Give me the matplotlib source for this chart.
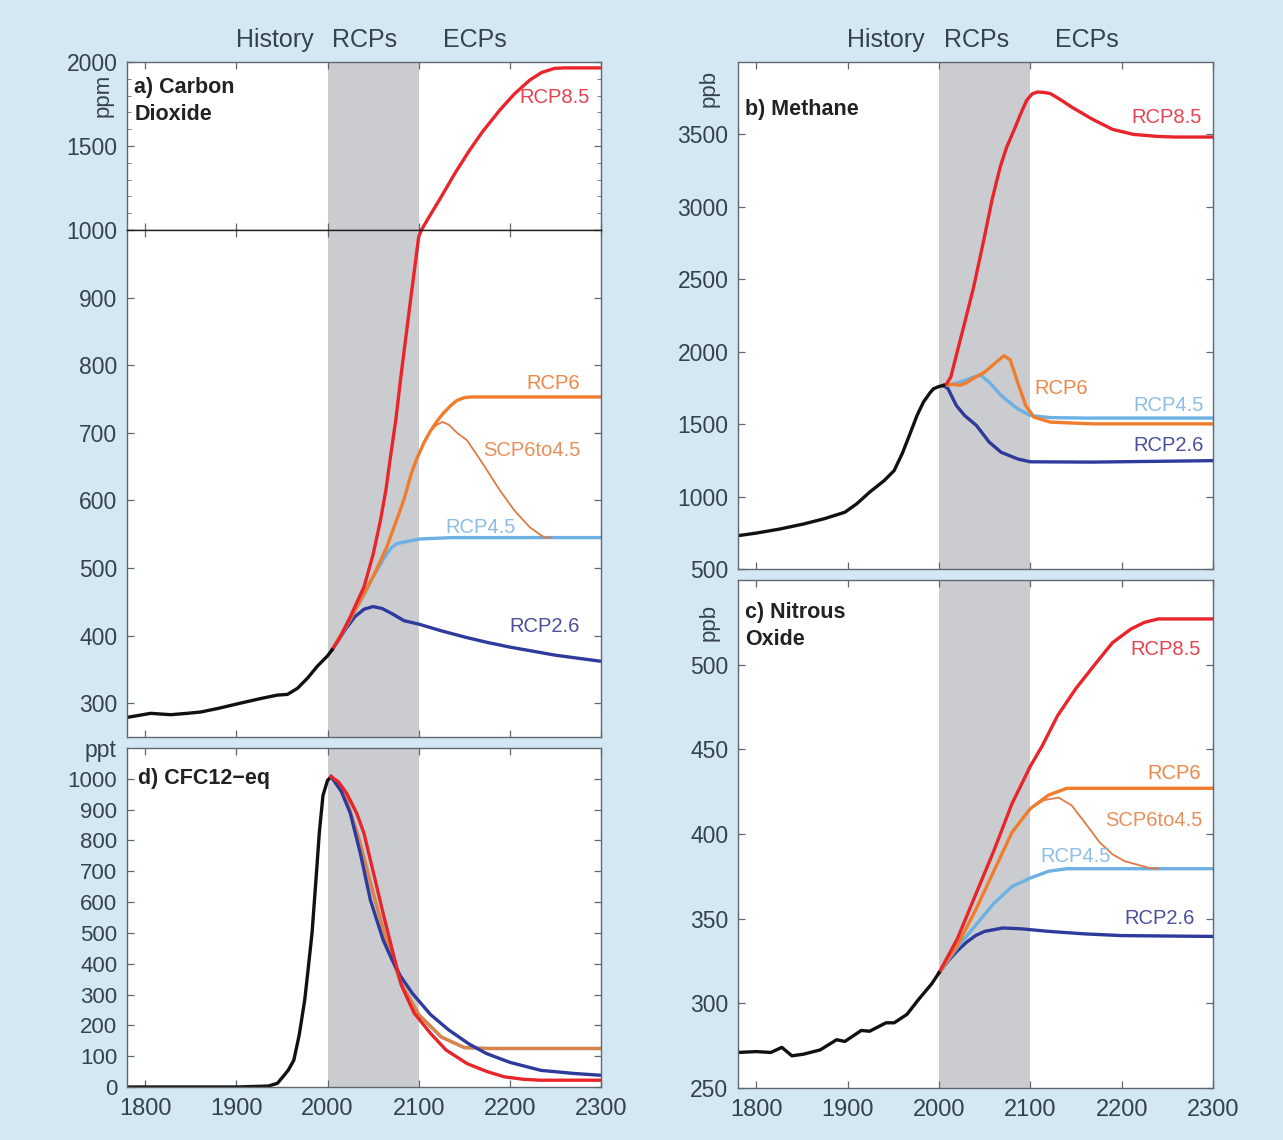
import matplotlib
matplotlib.use("Agg")
import matplotlib.pyplot as plt
from matplotlib.ticker import MultipleLocator
from matplotlib.transforms import blended_transform_factory

plt.rcParams['font.family'] = ['Liberation Sans', 'DejaVu Sans']

BG = '#d3e8f2'
SHADE = '#cbcccf'
TXT = '#36414b'
SPINE = '#5f686f'

C_HIST = '#111111'
C_85 = '#e8252b'
C_6 = '#f07d2e'
C_SCP = '#e07a45'
C_45 = '#6cb0e4'
C_26 = '#2e3a9c'

# ---- CO2 (ppm) ----
co2_hist_yr = [1780, 1806, 1828, 1846, 1861, 1879, 1901, 1927, 1945, 1956, 1967, 1978, 1989, 2000, 2005]
co2_hist = [279, 285, 283, 285, 287, 292, 299, 307, 312, 313, 322, 337, 355, 370, 379]
co2_85_yr = [2005, 2014, 2025, 2040, 2050, 2058, 2064, 2069, 2075, 2080, 2090, 2100, 2103, 2110, 2125,
             2140, 2156, 2170, 2189, 2205, 2222, 2235, 2249, 2260, 2300]
co2_85 = [379, 398, 428, 472, 520, 570, 615, 664, 720, 778, 885, 990, 1000, 1065, 1200,
          1340, 1476, 1585, 1714, 1810, 1893, 1938, 1962, 1965, 1965]
co2_6_yr = [2005, 2014, 2025, 2040, 2052, 2065, 2075, 2084, 2092, 2098, 2106, 2113, 2120, 2127,
            2135, 2142, 2150, 2157, 2300]
co2_6 = [379, 400, 425, 462, 493, 531, 568, 602, 640, 662, 686, 703, 717, 729,
         740, 748, 752, 753, 753]
co2_scp_yr = [2106, 2113, 2120, 2126, 2133, 2142, 2153, 2170, 2189, 2205, 2222, 2238, 2245]
co2_scp = [686, 703, 712, 716, 712, 700, 689, 655, 615, 585, 560, 545, 545]
co2_45_yr = [2005, 2015, 2025, 2040, 2050, 2060, 2065, 2070, 2076, 2090, 2102, 2138, 2300]
co2_45 = [379, 400, 425, 460, 487, 510, 521, 530, 536, 540, 543, 545, 545]
co2_26_yr = [2005, 2010, 2020, 2030, 2040, 2050, 2060, 2070, 2084, 2100, 2125, 2153, 2175, 2200, 2250, 2300]
co2_26 = [379, 389, 410, 428, 439, 443, 440, 433, 422, 417, 407, 397, 390, 383, 371, 362]

# ---- CH4 (ppb) ----
ch4_hist_yr = [1780, 1800, 1825, 1852, 1875, 1897, 1910, 1924, 1940, 1951, 1960, 1969, 1976, 1983, 1990, 1994, 2000, 2005]
ch4_hist = [730, 748, 775, 811, 848, 892, 950, 1030, 1110, 1180, 1300, 1445, 1560, 1652, 1715, 1744, 1760, 1767]
ch4_85_yr = [2005, 2008, 2013, 2020, 2027, 2038, 2049, 2058, 2067, 2074, 2082, 2090, 2096, 2102, 2108,
             2115, 2122, 2133, 2145, 2168, 2190, 2213, 2240, 2258, 2300]
ch4_85 = [1767, 1775, 1826, 2000, 2171, 2447, 2769, 3045, 3275, 3410, 3528, 3650, 3735, 3780, 3793,
          3790, 3782, 3740, 3690, 3605, 3535, 3500, 3486, 3482, 3482]
ch4_6_yr = [2005, 2015, 2023, 2030, 2037, 2050, 2064, 2071, 2078, 2086, 2095, 2104, 2122, 2168, 2300]
ch4_6 = [1767, 1775, 1768, 1785, 1813, 1859, 1935, 1972, 1945, 1790, 1629, 1548, 1514, 1502, 1502]
ch4_45_yr = [2005, 2015, 2028, 2040, 2046, 2055, 2068, 2086, 2100, 2122, 2160, 2300]
ch4_45 = [1767, 1775, 1801, 1830, 1836, 1790, 1698, 1606, 1560, 1545, 1542, 1542]
ch4_26_yr = [2005, 2010, 2019, 2028, 2041, 2055, 2068, 2086, 2100, 2168, 2300]
ch4_26 = [1767, 1744, 1629, 1560, 1491, 1376, 1306, 1260, 1240, 1238, 1248]

# ---- N2O (ppb) ----
n2o_hist_yr = [1780, 1800, 1816, 1828, 1839, 1852, 1870, 1888, 1897, 1915, 1924, 1942, 1951, 1965, 1978, 1992, 2000]
n2o_hist = [271, 271.5, 271, 274, 269, 270, 272.5, 278.5, 277.5, 284, 283.5, 288.5, 288.5, 293.5, 302.5, 311.5, 318]
n2o_85_yr = [2000, 2020, 2040, 2060, 2080, 2100, 2113, 2130, 2150, 2172, 2190, 2210, 2225, 2240, 2300]
n2o_85 = [318, 338, 364, 390, 418, 440, 452, 470, 486, 501, 513, 521, 525, 527, 527]
n2o_6_yr = [2000, 2020, 2040, 2060, 2080, 2100, 2120, 2140, 2300]
n2o_6 = [318, 334, 355, 378, 401, 415, 423, 427, 427]
n2o_scp_yr = [2100, 2115, 2131, 2145, 2158, 2176, 2190, 2203, 2230, 2240]
n2o_scp = [415, 420, 421.5, 417, 408, 395, 388, 384, 380, 379.5]
n2o_45_yr = [2000, 2020, 2040, 2060, 2080, 2100, 2120, 2140, 2300]
n2o_45 = [318, 333, 346, 359, 369, 374, 378, 379.5, 379.5]
n2o_26_yr = [2000, 2010, 2020, 2030, 2040, 2050, 2070, 2090, 2120, 2160, 2200, 2300]
n2o_26 = [318, 325, 331, 336, 340, 342.5, 344.5, 344, 342.5, 341, 340, 339.5]

# ---- CFC12-eq (ppt) ----
cfc_hist_yr = [1780, 1900, 1935, 1945, 1951, 1957, 1963, 1969, 1975, 1979, 1983, 1987, 1991, 1995, 2000, 2004]
cfc_hist = [0, 0, 3, 12, 33, 55, 87, 170, 283, 390, 500, 660, 826, 946, 995, 1007]
cfc_85_yr = [2004, 2012, 2021, 2032, 2040, 2050, 2061, 2072, 2081, 2095, 2113, 2130, 2153, 2175, 2194, 2215, 2234, 2300]
cfc_85 = [1007, 990, 953, 888, 823, 700, 563, 433, 330, 240, 174, 120, 76, 50, 33, 25, 22, 22]
cfc_26_yr = [2004, 2015, 2025, 2036, 2047, 2061, 2071, 2080, 2093, 2113, 2133, 2155, 2174, 2200, 2234, 2270, 2300]
cfc_26 = [1007, 960, 888, 758, 607, 477, 411, 360, 304, 235, 185, 140, 109, 80, 54, 44, 38]
cfc_6_yr = [2004, 2020, 2035, 2050, 2065, 2080, 2100, 2125, 2150, 2175, 2300]
cfc_6 = [1007, 940, 800, 630, 470, 340, 235, 162, 128, 125, 125]
cfc_45 = [1007, 940, 800, 630, 470, 340, 235, 162, 128, 125, 125]

W, H = 1283, 1140
fig = plt.figure(figsize=(W / 100, H / 100), dpi=100, facecolor=BG)


def axes_px(left, top, right, bottom):
    return fig.add_axes([left / W, 1 - bottom / H, (right - left) / W, (bottom - top) / H])


def style(ax, ylim, xlabels=False):
    ax.set_xlim(1780, 2300)
    ax.set_ylim(*ylim)
    ax.axvspan(2000, 2100, color=SHADE, lw=0, zorder=0)
    ax.set_xticks([1800, 1900, 2000, 2100, 2200, 2300])
    ax.tick_params(direction='in', top=True, right=True, length=5, width=0.9,
                   color=SPINE, labelcolor=TXT, labelsize=16.5)
    ax.tick_params(axis='y', pad=7)
    ax.tick_params(axis='x', pad=8)
    ax.tick_params(which='minor', direction='in', left=True, right=True, length=3, color=SPINE)
    if not xlabels:
        ax.tick_params(labelbottom=False)
    for s in ax.spines.values():
        s.set_color(SPINE)
        s.set_linewidth(1.0)


def lab(ax, x, y, s, c):
    ax.text(x, y, s, color=c, fontsize=14.5, ha='center', va='center')


LW = 2.4

# CO2 upper (1000-2000)
a_up = axes_px(127, 62, 601, 230)
style(a_up, (1000, 2000))
a_up.set_yticks([1000, 1500, 2000])
a_up.yaxis.set_minor_locator(MultipleLocator(100))
a_up.plot(co2_85_yr, co2_85, color=C_85, lw=LW)
a_up.set_yticklabels(['', '1500', '2000'])
a_up.spines['bottom'].set_color('#222222')
lab(a_up, 2249, 1791, 'RCP8.5', '#e8414f')
a_up.text(1788, 1910, 'a) Carbon\nDioxide', fontsize=15.5, fontweight='bold', color='#222222',
          va='top', ha='left', linespacing=1.35)

# CO2 lower (250-1000)
a_lo = axes_px(127, 230, 601, 737)
style(a_lo, (250, 1000))
a_lo.set_yticks(range(300, 1001, 100))
a_lo.plot(co2_26_yr, co2_26, color=C_26, lw=LW)
a_lo.plot(co2_45_yr, co2_45, color=C_45, lw=LW)
a_lo.plot(co2_scp_yr, co2_scp, color=C_SCP, lw=1.3)
a_lo.plot(co2_6_yr, co2_6, color=C_6, lw=LW)
a_lo.plot(co2_85_yr, co2_85, color=C_85, lw=LW)
a_lo.plot(co2_hist_yr, co2_hist, color=C_HIST, lw=LW)
a_lo.spines['top'].set_color('#222222')
lab(a_lo, 2247, 773, 'RCP6', '#f0874a')
lab(a_lo, 2224, 674, 'SCP6to4.5', '#e8905a')
lab(a_lo, 2168, 560, 'RCP4.5', '#8cbde6')
lab(a_lo, 2238, 413, 'RCP2.6', '#4b4f9c')

# CFC12-eq
a_cfc = axes_px(127, 748, 601, 1087)
style(a_cfc, (0, 1100), xlabels=True)
a_cfc.set_yticks(range(0, 1001, 100))
a_cfc.tick_params(axis='y', labelsize=16)
a_cfc.plot(cfc_hist_yr, cfc_hist, color=C_HIST, lw=LW)
a_cfc.plot(cfc_6_yr, cfc_45, color=C_45, lw=LW)
a_cfc.plot(cfc_6_yr, cfc_6, color=C_6, lw=LW, alpha=0.85)
a_cfc.plot(cfc_26_yr, cfc_26, color=C_26, lw=LW)
a_cfc.plot(cfc_85_yr, cfc_85, color=C_85, lw=LW)
a_cfc.text(1792, 1000, 'd) CFC12\u2212eq', fontsize=15.5, fontweight='bold', color='#222222',
           va='center', ha='left')

# Methane
a_ch4 = axes_px(738, 62, 1213, 569)
style(a_ch4, (500, 4000))
a_ch4.set_yticks(range(500, 3501, 500))
a_ch4.plot(ch4_26_yr, ch4_26, color=C_26, lw=LW)
a_ch4.plot(ch4_45_yr, ch4_45, color=C_45, lw=LW)
a_ch4.plot(ch4_6_yr, ch4_6, color=C_6, lw=LW)
a_ch4.plot(ch4_85_yr, ch4_85, color=C_85, lw=LW)
a_ch4.plot(ch4_hist_yr, ch4_hist, color=C_HIST, lw=LW)
lab(a_ch4, 2249, 3615, 'RCP8.5', '#e8414f')
lab(a_ch4, 2134, 1749, 'RCP6', '#f0874a')
lab(a_ch4, 2251, 1629, 'RCP4.5', '#8cbde6')
lab(a_ch4, 2251, 1352, 'RCP2.6', '#4b4f9c')
a_ch4.text(1788, 3670, 'b) Methane', fontsize=15.5, fontweight='bold', color='#222222',
           va='center', ha='left')

# Nitrous oxide
a_n2o = axes_px(738, 580, 1213, 1088)
style(a_n2o, (250, 550), xlabels=True)
a_n2o.set_yticks(range(250, 501, 50))
a_n2o.plot(n2o_26_yr, n2o_26, color=C_26, lw=LW)
a_n2o.plot(n2o_45_yr, n2o_45, color=C_45, lw=LW)
a_n2o.plot(n2o_scp_yr, n2o_scp, color=C_SCP, lw=1.3)
a_n2o.plot(n2o_6_yr, n2o_6, color=C_6, lw=LW)
a_n2o.plot(n2o_85_yr, n2o_85, color=C_85, lw=LW)
a_n2o.plot(n2o_hist_yr, n2o_hist, color=C_HIST, lw=LW)
lab(a_n2o, 2248, 509, 'RCP8.5', '#e8414f')
lab(a_n2o, 2257, 436, 'RCP6', '#f0874a')
lab(a_n2o, 2235, 408, 'SCP6to4.5', '#e8905a')
lab(a_n2o, 2149, 387, 'RCP4.5', '#8cbde6')
lab(a_n2o, 2242, 350, 'RCP2.6', '#4b4f9c')
a_n2o.text(1788, 537, 'c) Nitrous\nOxide', fontsize=15.5, fontweight='bold', color='#222222',
           va='top', ha='left', linespacing=1.35)

for ax in (a_cfc, a_n2o):
    for t in ax.get_xticklabels():
        t.set_fontsize(17)

# period headers above the top panels
for ax in (a_up, a_ch4):
    tr = blended_transform_factory(ax.transData, fig.transFigure)
    for yr, s in ((1942, 'History'), (2041, 'RCPs'), (2162, 'ECPs')):
        ax.text(yr, 1 - 40 / H, s, transform=tr, ha='center', va='center', fontsize=18, color=TXT)

# unit labels
fig.text(103 / W, 1 - 95 / H, 'ppm', rotation=90, ha='center', va='center', fontsize=16, color=TXT)
fig.text(709 / W, 1 - 88 / H, 'ppb', rotation=90, ha='center', va='center', fontsize=16, color=TXT)
fig.text(709 / W, 1 - 622 / H, 'ppb', rotation=90, ha='center', va='center', fontsize=16, color=TXT)
fig.text(100 / W, 1 - 750 / H, 'ppt', ha='center', va='center', fontsize=16.5, color=TXT)

fig.savefig('out.png', dpi=100, facecolor=BG)
